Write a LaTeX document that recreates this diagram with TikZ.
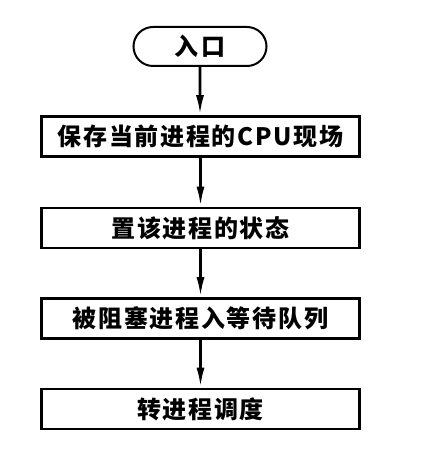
\documentclass[tikz,border=0pt]{standalone}
\usepackage{fontspec}
\newfontfamily\cjk{Noto Sans CJK SC}[LetterSpace=7]
\usetikzlibrary{arrows.meta,shapes.misc}
\begin{document}
\begin{tikzpicture}[x=1pt,y=1pt,
    box/.style={draw,line width=2.6pt,minimum width=318pt,minimum height=40pt,inner sep=0pt,font=\cjk\bfseries\fontsize{24}{24}\selectfont},
    entry/.style={draw,rounded rectangle,line width=2pt,minimum width=133pt,minimum height=39pt,inner sep=0pt,font=\cjk\bfseries\fontsize{24}{24}\selectfont},
    flow/.style={line width=2.8pt,-{Latex[width=8pt,length=20pt]}}]
        \useasboundingbox (0,0) rectangle (430,464);
        \node[entry] (entry) at (200,417.5) {入\hspace{4pt}口};
        \node[box] (save) at (200.5,327.5) {保存当前进程的CPU现场};
        \node[box] (state) at (200.5,236) {置该进程的状态};
        \node[box] (queue) at (200.5,145.5) {被阻塞进程入等待队列};
        \node[box] (sched) at (200.5,55) {转进程调度};
        \draw[flow] (entry) -- (entry |- save.north);
        \draw[flow] (save) -- (save |- state.north);
        \draw[flow] (state) -- (state |- queue.north);
        \draw[flow] (queue) -- (queue |- sched.north);
    \end{tikzpicture}
\end{document}
